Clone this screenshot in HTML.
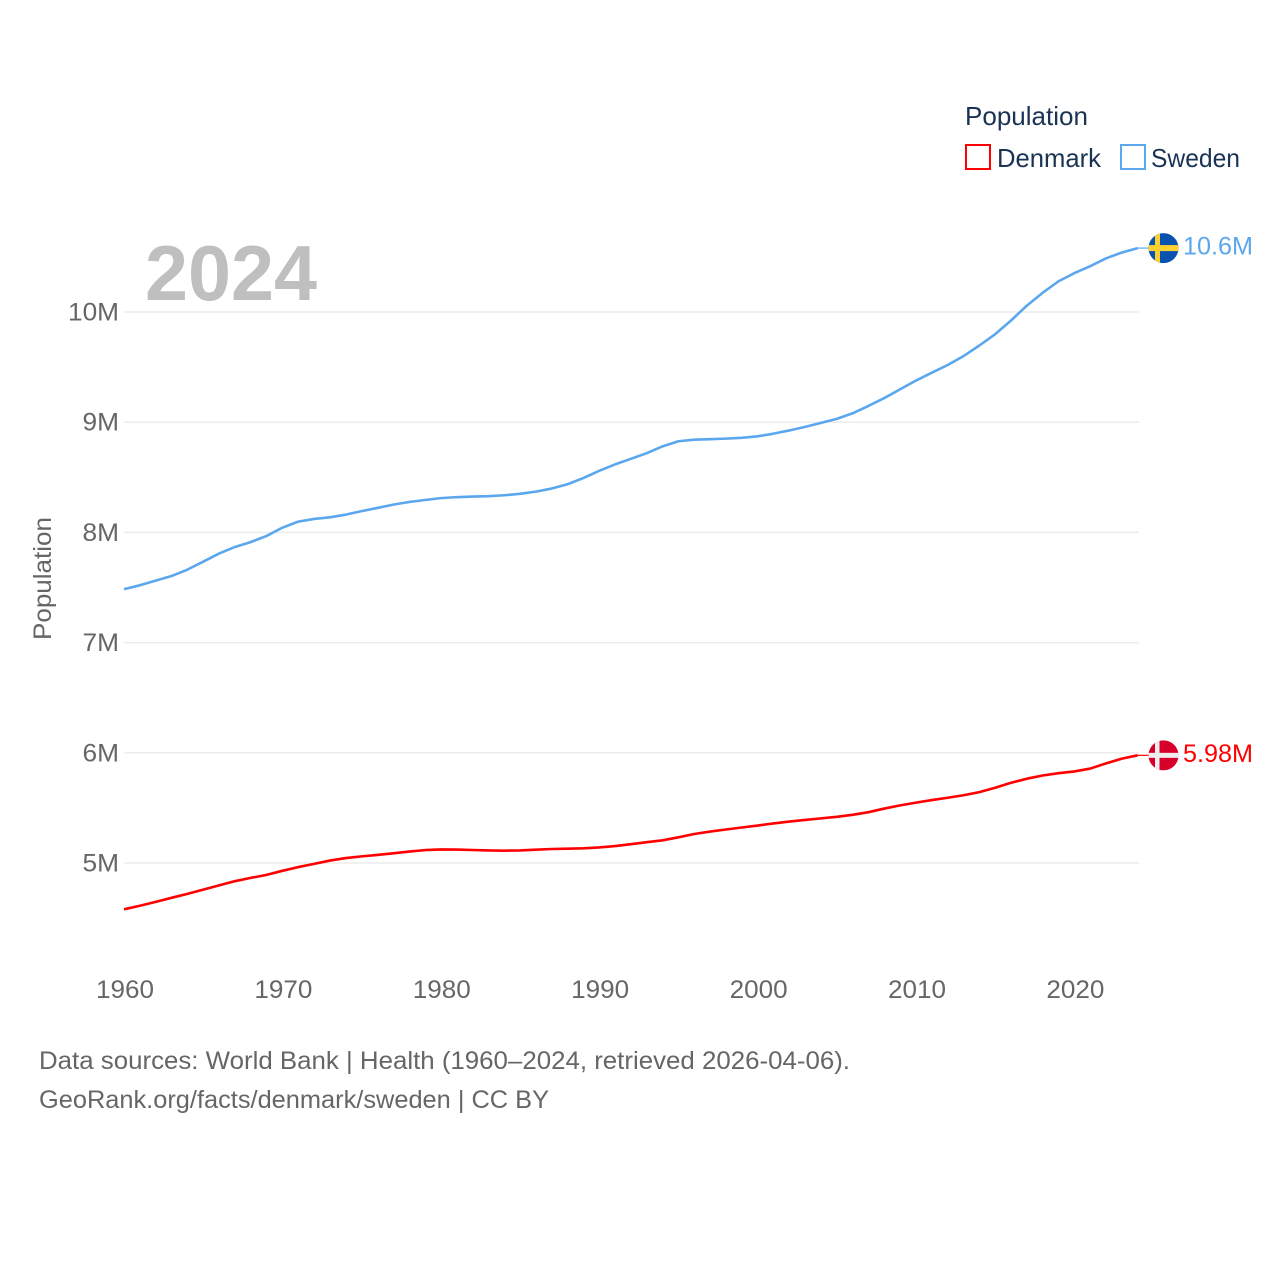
<!DOCTYPE html>
<html lang="en">
<head>
<meta charset="utf-8">
<title>Population: Denmark and Sweden</title>
<style>
html,body{margin:0;padding:0;background:#fff;width:1280px;height:1280px;overflow:hidden}
svg{display:block}
text{font-family:"Liberation Sans",sans-serif;font-size:25px;fill:#666}
.legend{fill:#1a3354;font-size:26px}
</style>
</head>
<body>
<svg id="chart" xmlns="http://www.w3.org/2000/svg" width="1280" height="1280" viewBox="0 0 1280 1280">
  <g id="grid"></g>
  <g id="yticks"></g>
  <g id="xticks"></g>
  <text x="145" y="300" font-weight="bold" style="font-size:78px;fill:#bfbfbf" textLength="172" lengthAdjust="spacingAndGlyphs">2024</text>
  <text transform="translate(51,640) rotate(-90)" textLength="123" lengthAdjust="spacingAndGlyphs">Population</text>
  <g id="series"></g>

  <g id="flag-sweden">
    <clipPath id="clip-se"><circle id="clip-se-c" r="15"></circle></clipPath>
    <g clip-path="url(#clip-se)">
      <rect id="se-bg" width="30" height="30" fill="#0a52b0"></rect>
      <rect id="se-v" width="5" height="30" fill="#fcd02f"></rect>
      <rect id="se-h" width="30" height="6" fill="#fcd02f"></rect>
    </g>
  </g>
  <g id="flag-denmark">
    <clipPath id="clip-dk"><circle id="clip-dk-c" r="15"></circle></clipPath>
    <g clip-path="url(#clip-dk)">
      <rect id="dk-bg" width="30" height="30" fill="#d6002a"></rect>
      <rect id="dk-v" width="4.5" height="30" fill="#eeeeee"></rect>
      <rect id="dk-h" width="30" height="5" fill="#eeeeee"></rect>
    </g>
  </g>
  <text id="label-sweden" x="1183" style="fill:#5ba7ee" textLength="70" lengthAdjust="spacingAndGlyphs"></text>
  <text id="label-denmark" x="1183" style="fill:#ff0000" textLength="70" lengthAdjust="spacingAndGlyphs"></text>

  <g>
    <text class="legend" x="965" y="125" textLength="123" lengthAdjust="spacingAndGlyphs">Population</text>
    <rect x="966" y="145" width="24" height="24" fill="#fff" stroke="#ff0000" stroke-width="2"></rect>
    <text class="legend" x="997" y="167" textLength="104" lengthAdjust="spacingAndGlyphs">Denmark</text>
    <rect x="1121" y="145" width="24" height="24" fill="#fff" stroke="#5ba7ee" stroke-width="2"></rect>
    <text class="legend" x="1151" y="167" textLength="89" lengthAdjust="spacingAndGlyphs">Sweden</text>
  </g>

  <g>
    <text x="39" y="1069" textLength="811" lengthAdjust="spacingAndGlyphs">Data sources: World Bank | Health (1960–2024, retrieved 2026-04-06).</text>
    <text x="39" y="1108" textLength="510" lengthAdjust="spacingAndGlyphs">GeoRank.org/facts/denmark/sweden | CC BY</text>
  </g>
</svg>
<script>
const years = [1960,1961,1962,1963,1964,1965,1966,1967,1968,1969,1970,1971,1972,1973,1974,1975,1976,1977,1978,1979,1980,1981,1982,1983,1984,1985,1986,1987,1988,1989,1990,1991,1992,1993,1994,1995,1996,1997,1998,1999,2000,2001,2002,2003,2004,2005,2006,2007,2008,2009,2010,2011,2012,2013,2014,2015,2016,2017,2018,2019,2020,2021,2022,2023,2024];
const sweden = [7.485,7.520,7.562,7.604,7.662,7.734,7.808,7.868,7.912,7.968,8.043,8.098,8.122,8.137,8.161,8.193,8.222,8.252,8.276,8.294,8.311,8.320,8.325,8.329,8.337,8.350,8.370,8.398,8.437,8.493,8.559,8.617,8.668,8.719,8.781,8.827,8.841,8.846,8.851,8.858,8.872,8.896,8.925,8.958,8.994,9.030,9.081,9.148,9.219,9.299,9.378,9.449,9.519,9.600,9.696,9.799,9.923,10.058,10.175,10.279,10.353,10.416,10.487,10.540,10.580];
const denmark = [4.580,4.612,4.647,4.684,4.720,4.758,4.797,4.835,4.865,4.892,4.929,4.963,4.992,5.022,5.045,5.060,5.073,5.088,5.104,5.117,5.123,5.122,5.118,5.114,5.112,5.114,5.121,5.127,5.130,5.133,5.141,5.154,5.171,5.189,5.206,5.233,5.263,5.285,5.304,5.322,5.340,5.359,5.376,5.391,5.405,5.419,5.437,5.461,5.494,5.523,5.548,5.571,5.592,5.615,5.643,5.683,5.728,5.765,5.794,5.815,5.831,5.857,5.904,5.947,5.977];
const yTickValues = [5,6,7,8,9,10];
const yTickLabels = ['5M','6M','7M','8M','9M','10M'];
const xTickValues = [1960,1970,1980,1990,2000,2010,2020];
const xTickLabels = ['1960','1970','1980','1990','2000','2010','2020'];
const swedenLabel = '10.6M';
const denmarkLabel = '5.98M';

const NS = 'http://www.w3.org/2000/svg';
function xScale(year){ return 124 + (year - 1960) * 15.84; }
function yScale(millions){ return 312 + (10 - millions) * 110.2; }

const grid = document.getElementById('grid');
const yticks = document.getElementById('yticks');
const xticks = document.getElementById('xticks');
const series = document.getElementById('series');

yTickValues.forEach(function(v, i){
  const y = yScale(v);
  const line = document.createElementNS(NS, 'line');
  
  
  line.setAttribute('x1', 124);
  line.setAttribute('x2', 1139);
  line.setAttribute('y1', y);
  line.setAttribute('y2', y);
  line.setAttribute('stroke', '#ececec');
  line.setAttribute('stroke-width', 1.5);
  grid.appendChild(line);

  const t = document.createElementNS(NS, 'text');
  
  
  const w = 14.5 * (yTickLabels[i].length - 1) + 22;
  t.setAttribute('x', 119 - w);
  t.setAttribute('y', y + 8.5);
  t.setAttribute('textLength', w);
  t.setAttribute('lengthAdjust', 'spacingAndGlyphs');
  t.textContent = yTickLabels[i];
  yticks.appendChild(t);
});

xTickValues.forEach(function(v, i){
  const t = document.createElementNS(NS, 'text');
  
  
  t.setAttribute('x', xScale(v) - 28);
  t.setAttribute('y', 998);
  t.setAttribute('textLength', 58);
  t.setAttribute('lengthAdjust', 'spacingAndGlyphs');
  t.textContent = xTickLabels[i];
  xticks.appendChild(t);
});

function drawLine(values, color, name){
  const d = values.map(function(v, i){
    return (i ? 'L' : 'M') + xScale(years[i]).toFixed(2) + ' ' + yScale(v).toFixed(2);
  }).join(' ');
  const path = document.createElementNS(NS, 'path');
  
  
  path.setAttribute('d', d);
  path.setAttribute('fill', 'none');
  path.setAttribute('stroke', color);
  path.setAttribute('stroke-width', 2.6);
  path.setAttribute('stroke-linejoin', 'round');
  series.appendChild(path);

  const last = values[values.length - 1];
  const lastX = xScale(years[years.length - 1]);
  const conn = document.createElementNS(NS, 'line');
  
  
  conn.setAttribute('x1', lastX);
  conn.setAttribute('x2', lastX + 11);
  conn.setAttribute('y1', yScale(last));
  conn.setAttribute('y2', yScale(last));
  conn.setAttribute('stroke', color);
  conn.setAttribute('stroke-width', 1.2);
  series.appendChild(conn);
}
drawLine(denmark, '#ff0000', 'denmark-line');
drawLine(sweden, '#5ba7ee', 'sweden-line');

function placeFlag(prefix, values, barW){
  const cx = 1163.5;
  const cy = yScale(values[values.length - 1]);
  const c = document.getElementById('clip-' + prefix + '-c');
  c.setAttribute('cx', cx);
  c.setAttribute('cy', cy);
  const bg = document.getElementById(prefix + '-bg');
  bg.setAttribute('x', cx - 15);
  bg.setAttribute('y', cy - 15);
  const v = document.getElementById(prefix + '-v');
  v.setAttribute('x', cx - 8.5);
  v.setAttribute('y', cy - 15);
  const h = document.getElementById(prefix + '-h');
  h.setAttribute('x', cx - 15);
  h.setAttribute('y', cy - barW / 2);
}
placeFlag('se', sweden, 6);
placeFlag('dk', denmark, 5);

const labelSe = document.getElementById('label-sweden');
labelSe.textContent = swedenLabel;
labelSe.setAttribute('y', yScale(sweden[sweden.length - 1]) + 6.5);
const labelDk = document.getElementById('label-denmark');
labelDk.textContent = denmarkLabel;
labelDk.setAttribute('y', yScale(denmark[denmark.length - 1]) + 6.5);
</script>
</body>
</html>
